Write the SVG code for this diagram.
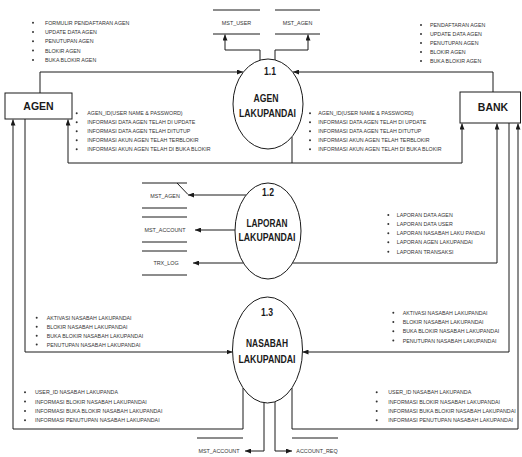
<svg xmlns="http://www.w3.org/2000/svg" width="522" height="457" viewBox="0 0 522 457">
  <style>
    .ln { fill: none; stroke: #1a1a1a; stroke-width: 1; }
    .box { fill: #ffffff; stroke: #1a1a1a; stroke-width: 1; }
    .proc { fill: #ffffff; stroke: #1a1a1a; stroke-width: 1; }
    .ent { font-family: "Liberation Sans", Arial, sans-serif; font-size: 10.5px; font-weight: bold; fill: #1a1a1a; text-anchor: middle; }
    .pt { font-family: "Liberation Sans", Arial, sans-serif; font-size: 10px; font-weight: bold; fill: #1a1a1a; text-anchor: middle; }
    .sm { font-family: "Liberation Sans", Arial, sans-serif; font-size: 5.3px; fill: #333333; }
    .st { font-family: "Liberation Sans", Arial, sans-serif; font-size: 5.4px; fill: #333333; text-anchor: middle; }
    .dot { fill: #333333; }
  </style>
  <defs>
    <marker id="arr" markerUnits="userSpaceOnUse" markerWidth="6" markerHeight="5" refX="6" refY="2.5" orient="auto">
      <path d="M0,0 L6,2.5 L0,5 z" fill="#1a1a1a"/>
    </marker>
  </defs>
  <rect width="522" height="457" fill="#ffffff"/>

  <!-- data flows -->
  <g id="connectors">
    <path class="ln" d="M40,93 V72 H243" marker-end="url(#arr)"/>
    <path class="ln" d="M493,92 V72 H293" marker-end="url(#arr)"/>
    <path class="ln" d="M260,60 V50 H225 V34.5" marker-end="url(#arr)"/>
    <path class="ln" d="M275,60 V50 H308 V34.5" marker-end="url(#arr)"/>
    <path class="ln" d="M292,137 V163 H68 V119.5" marker-end="url(#arr)"/>
    <path class="ln" d="M292,163 H462 V123.5" marker-end="url(#arr)"/>
    <path class="ln" d="M246,195 H188" marker-end="url(#arr)"/>
    <path class="ln" d="M177,183 L188,194.5"/>
    <path class="ln" d="M235,230 H195" marker-end="url(#arr)"/>
    <path class="ln" d="M243.4,263 H193" marker-end="url(#arr)"/>
    <path class="ln" d="M292.6,263 H497 V123.5" marker-end="url(#arr)"/>
    <path class="ln" d="M25,119 V352 H232.5" marker-end="url(#arr)"/>
    <path class="ln" d="M509,123 V352 H302.5" marker-end="url(#arr)"/>
    <path class="ln" d="M243,388 V429 H13 V119.5" marker-end="url(#arr)"/>
    <path class="ln" d="M292,388 V429 H518 V123.5" marker-end="url(#arr)"/>
    <path class="ln" d="M264,402.5 V451 H245" marker-end="url(#arr)"/>
    <path class="ln" d="M275,401 V451 H292" marker-end="url(#arr)"/>
  </g>

  <!-- external entities -->
  <g id="agen">
    <rect class="box" x="5" y="93" width="67" height="26"/>
    <text class="ent" x="38.5" y="110">AGEN</text>
  </g>
  <g id="bank">
    <rect class="box" x="460" y="92" width="60.5" height="31"/>
    <text class="ent" x="493" y="111">BANK</text>
  </g>

  <!-- processes -->
  <g id="p11">
    <ellipse class="proc" cx="268" cy="104" rx="35" ry="45"/>
    <text class="pt" x="270" y="75" textLength="12" lengthAdjust="spacingAndGlyphs">1.1</text>
    <text class="pt" x="266" y="102" textLength="25" lengthAdjust="spacingAndGlyphs">AGEN</text>
    <text class="pt" x="267.5" y="117" textLength="57" lengthAdjust="spacingAndGlyphs">LAKUPANDAI</text>
  </g>
  <g id="p12">
    <ellipse class="proc" cx="268" cy="231" rx="33" ry="48"/>
    <text class="pt" x="268" y="196" textLength="12" lengthAdjust="spacingAndGlyphs">1.2</text>
    <text class="pt" x="267" y="227" textLength="41" lengthAdjust="spacingAndGlyphs">LAPORAN</text>
    <text class="pt" x="267" y="241" textLength="57" lengthAdjust="spacingAndGlyphs">LAKUPANDAI</text>
  </g>
  <g id="p13">
    <ellipse class="proc" cx="267.5" cy="350" rx="35" ry="53"/>
    <text class="pt" x="267" y="316" textLength="12" lengthAdjust="spacingAndGlyphs">1.3</text>
    <text class="pt" x="267" y="347" textLength="42" lengthAdjust="spacingAndGlyphs">NASABAH</text>
    <text class="pt" x="267" y="363" textLength="57" lengthAdjust="spacingAndGlyphs">LAKUPANDAI</text>
  </g>

  <!-- data stores -->
  <g id="ds-mst-user">
    <path class="ln" d="M213,10 H260 M213,34 H260"/>
    <text class="st" x="236.5" y="25">MST_USER</text>
  </g>
  <g id="ds-mst-agen-top">
    <path class="ln" d="M275,10 H320 M275,34 H320"/>
    <text class="st" x="297.5" y="25">MST_AGEN</text>
  </g>
  <g id="ds-mst-agen">
    <path class="ln" d="M142,183 H187 M142,208 H187"/>
    <text class="st" x="165" y="198">MST_AGEN</text>
  </g>
  <g id="ds-mst-account">
    <path class="ln" d="M142,217 H187 M142,242 H187"/>
    <text class="st" x="165" y="232">MST_ACCOUNT</text>
  </g>
  <g id="ds-trx-log">
    <path class="ln" d="M142,251 H187 M142,275 H187"/>
    <text class="st" x="166" y="265">TRX_LOG</text>
  </g>
  <g id="ds-mst-account-bottom">
    <path class="ln" d="M197,438 H243"/>
    <text class="st" x="219" y="453">MST_ACCOUNT</text>
  </g>
  <g id="ds-account-req">
    <path class="ln" d="M292,438 H338"/>
    <text class="st" x="317" y="453">ACCOUNT_REQ</text>
  </g>

  <!-- flow labels -->
  <g id="lbl-agen-11">
    <circle class="dot" cx="33" cy="22.7" r="1"/><text class="sm" x="45" y="24.7">FORMULIR PENDAFTARAN AGEN</text>
    <circle class="dot" cx="33" cy="32" r="1"/><text class="sm" x="45" y="34">UPDATE DATA AGEN</text>
    <circle class="dot" cx="33" cy="41.3" r="1"/><text class="sm" x="45" y="43.3">PENUTUPAN AGEN</text>
    <circle class="dot" cx="33" cy="50.6" r="1"/><text class="sm" x="45" y="52.6">BLOKIR AGEN</text>
    <circle class="dot" cx="33" cy="59.9" r="1"/><text class="sm" x="45" y="61.9">BUKA BLOKIR AGEN</text>
  </g>
  <g id="lbl-bank-11">
    <circle class="dot" cx="421" cy="25" r="1"/><text class="sm" x="430" y="27">PENDAFTARAN AGEN</text>
    <circle class="dot" cx="421" cy="34" r="1"/><text class="sm" x="430" y="36">UPDATE DATA AGEN</text>
    <circle class="dot" cx="421" cy="43" r="1"/><text class="sm" x="430" y="45">PENUTUPAN AGEN</text>
    <circle class="dot" cx="421" cy="52" r="1"/><text class="sm" x="430" y="54">BLOKIR AGEN</text>
    <circle class="dot" cx="421" cy="61" r="1"/><text class="sm" x="430" y="63">BUKA BLOKIR AGEN</text>
  </g>
  <g id="lbl-11-agen">
    <circle class="dot" cx="76.7" cy="113.3" r="1"/><text class="sm" x="87.3" y="115.3">AGEN_ID(USER NAME &amp; PASSWORD)</text>
    <circle class="dot" cx="76.7" cy="122.3" r="1"/><text class="sm" x="87.3" y="124.3">INFORMASI DATA AGEN TELAH DI UPDATE</text>
    <circle class="dot" cx="76.7" cy="131.2" r="1"/><text class="sm" x="87.3" y="133.2">INFORMASI DATA AGEN TELAH DITUTUP</text>
    <circle class="dot" cx="76.7" cy="140.2" r="1"/><text class="sm" x="87.3" y="142.2">INFORMASI AKUN AGEN TELAH TERBLOKIR</text>
    <circle class="dot" cx="76.7" cy="149.3" r="1"/><text class="sm" x="87.3" y="151.3">INFORMASI AKUN AGEN TELAH DI BUKA BLOKIR</text>
  </g>
  <g id="lbl-11-bank">
    <circle class="dot" cx="310" cy="113.3" r="1"/><text class="sm" x="318.3" y="115.3">AGEN_ID(USER NAME &amp; PASSWORD)</text>
    <circle class="dot" cx="310" cy="122.3" r="1"/><text class="sm" x="318.3" y="124.3">INFORMASI DATA AGEN TELAH DI UPDATE</text>
    <circle class="dot" cx="310" cy="131.2" r="1"/><text class="sm" x="318.3" y="133.2">INFORMASI DATA AGEN TELAH DITUTUP</text>
    <circle class="dot" cx="310" cy="140.2" r="1"/><text class="sm" x="318.3" y="142.2">INFORMASI AKUN AGEN TELAH TERBLOKIR</text>
    <circle class="dot" cx="310" cy="149.3" r="1"/><text class="sm" x="318.3" y="151.3">INFORMASI AKUN AGEN TELAH DI BUKA BLOKIR</text>
  </g>
  <g id="lbl-12-bank">
    <circle class="dot" cx="388.3" cy="215" r="1"/><text class="sm" x="396.7" y="217">LAPORAN DATA AGEN</text>
    <circle class="dot" cx="388.3" cy="224" r="1"/><text class="sm" x="396.7" y="226">LAPORAN DATA USER</text>
    <circle class="dot" cx="388.3" cy="233.3" r="1"/><text class="sm" x="396.7" y="235.3">LAPORAN NASABAH LAKU PANDAI</text>
    <circle class="dot" cx="388.3" cy="242.3" r="1"/><text class="sm" x="396.7" y="244.3">LAPORAN AGEN LAKUPANDAI</text>
    <circle class="dot" cx="388.3" cy="251.7" r="1"/><text class="sm" x="396.7" y="253.7">LAPORAN TRANSAKSI</text>
  </g>
  <g id="lbl-agen-13">
    <circle class="dot" cx="36.7" cy="317.7" r="1"/><text class="sm" x="46.7" y="319.7">AKTIVASI NASABAH LAKUPANDAI</text>
    <circle class="dot" cx="36.7" cy="326.7" r="1"/><text class="sm" x="46.7" y="328.7">BLOKIR NASABAH LAKUPANDAI</text>
    <circle class="dot" cx="36.7" cy="335.7" r="1"/><text class="sm" x="46.7" y="337.7">BUKA BLOKIR NASABAH LAKUPANDAI</text>
    <circle class="dot" cx="36.7" cy="344.5" r="1"/><text class="sm" x="46.7" y="346.5">PENUTUPAN NASABAH LAKUPANDAI</text>
  </g>
  <g id="lbl-bank-13">
    <circle class="dot" cx="393.3" cy="312.7" r="1"/><text class="sm" x="402.7" y="314.7">AKTIVASI NASABAH LAKUPANDAI</text>
    <circle class="dot" cx="393.3" cy="322" r="1"/><text class="sm" x="402.7" y="324">BLOKIR NASABAH LAKUPANDAI</text>
    <circle class="dot" cx="393.3" cy="331.2" r="1"/><text class="sm" x="402.7" y="333.2">BUKA BLOKIR NASABAH LAKUPANDAI</text>
    <circle class="dot" cx="393.3" cy="340.5" r="1"/><text class="sm" x="402.7" y="342.5">PENUTUPAN NASABAH LAKUPANDAI</text>
  </g>
  <g id="lbl-13-agen">
    <circle class="dot" cx="25" cy="392.3" r="1"/><text class="sm" x="35" y="394.3">USER_ID NASABAH LAKUPANDA</text>
    <circle class="dot" cx="25" cy="401.6" r="1"/><text class="sm" x="35" y="403.6">INFORMASI BLOKIR NASABAH LAKUPANDAI</text>
    <circle class="dot" cx="25" cy="410.9" r="1"/><text class="sm" x="35" y="412.9">INFORMASI BUKA BLOKIR NASABAH LAKUPANDAI</text>
    <circle class="dot" cx="25" cy="420.2" r="1"/><text class="sm" x="35" y="422.2">INFORMASI PENUTUPAN NASABAH LAKUPANDAI</text>
  </g>
  <g id="lbl-13-bank">
    <circle class="dot" cx="376.7" cy="392.3" r="1"/><text class="sm" x="388.3" y="394.3">USER_ID NASABAH LAKUPANDA</text>
    <circle class="dot" cx="376.7" cy="401.6" r="1"/><text class="sm" x="388.3" y="403.6">INFORMASI BLOKIR NASABAH LAKUPANDAI</text>
    <circle class="dot" cx="376.7" cy="410.9" r="1"/><text class="sm" x="388.3" y="412.9">INFORMASI BUKA BLOKIR NASABAH LAKUPANDAI</text>
    <circle class="dot" cx="376.7" cy="420.2" r="1"/><text class="sm" x="388.3" y="422.2">INFORMASI PENUTUPAN NASABAH LAKUPANDAI</text>
  </g>
</svg>
